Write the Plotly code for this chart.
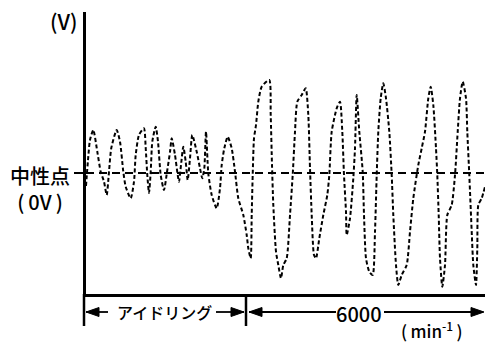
import plotly.graph_objects as go

# Waveform (time in arbitrary units, voltage relative to neutral point)
time = [2, 4, 6, 9.3, 13.3, 16.7, 20, 22.7, 25, 27.3, 32.7, 36, 39.3, 41.7, 46.7, 50, 51.7, 55, 60,
        61.7, 63.3, 65, 66.7, 68.3, 71.7, 74, 76.7, 80, 83, 86, 87.7, 91, 93.7, 95, 97, 99.3, 101.7,
        103.7, 106, 108.3, 112.7, 116, 118.3, 120.3, 122, 124.3, 127.7, 132.7, 136, 137.7, 140.3,
        143.7, 147.7, 151, 154.3, 159.3, 162.7, 164.3, 166.7, 167.7, 168.7, 170, 172, 174.3, 177.7,
        185.3, 186.7, 188, 189.3, 192, 194.3, 197, 199.3, 202.7, 206, 208.7, 211, 213.3, 217.7,
        221.7, 224.3, 226, 227.7, 230, 232, 235.3, 239.3, 243.3, 245.3, 247.7, 252.7, 256, 258.3,
        260, 262, 262.7, 266, 269.3, 271, 272.7, 275.3, 278.7, 280, 282, 285.3, 288.7, 291, 292.7,
        294.3, 296.7, 299.3, 302, 305.3, 307.7, 309.3, 312, 314.3, 317.7, 322.7, 326, 329.3, 334.3,
        337.7, 341, 344.3, 346.7, 349.3, 352, 353.3, 354.7, 356, 358.3, 361, 363.3, 367.7, 371,
        373.7, 376, 378.7, 382, 383.3, 385.3, 387.7, 389.3, 392, 393.3, 394.3, 397.7, 401]
voltage = [-13, 13, 33, 43, 21.3, 1.3, -8.7, -22, 1.3, 25, 43, 31.3, 1.3, -13.7, -25.3, -8.7, 18, 38, 44.7,
           25, -2, -20, 1.3, 31.3, 46.3, 31.3, -2, -17, 1, 21, 34.7, 18, -2, -8.7, 8, 26.3, 11.3,
           -7, 14.7, 38, 21.3, 4.7, -5.3, 4.7, 41.3, -0.3, -22, -35.3, -15.3, 8, 24.7,
           36.3, 24.7, 1.3, -25.3, -42, -62, -75.3, -85.3, -42, -2, 34.7, 48, 71.3, 86.3,
           93, 58, 8, -32, -78.7, -92, -105.3, -92, -85.3, -42, -2, 41.3, 71.3, 78,
           84.7, 58, 4.7, -42, -82, -85.3, -65.3, -42, -22, -2, 41.3, 64.7, 71.3, 41.3,
           -2, -38.7, -62, -45.3, -5.3, 24.7, 78, 41.3, 1.3, -42, -85.3, -98.7, -102, -58.7, -2,
           41.3, 74.7, 89.7, 74.7, 41.3, -2, -42, -92, -112, -102, -92, -58.7, -25.3, 8,
           24.7, 41.3, 74.7, 86.3, 68, 24.7, -2, -42, -85.3, -113.7, -92, -42, -32, -2,
           41.3, 74.7, 91.3, 74.7, 41.3, -2, -58.7, -92, -112, -75.3, -32, -25.3, -13.7]

neutral_level = 0
x_range = [2, 401]
y_range = [-121, 161]

# Layout geometry (pixels)
W, H = 485, 342
L, R, T, B = 86, 0, 12, 48
PW, PH = W - L - R, H - T - B


def px(x):
    return (x - L) / PW


def py(y):
    return (H - B - y) / PH


fig = go.Figure()
fig.add_trace(go.Scatter(
    x=time, y=voltage, mode="lines",
    line=dict(color="black", width=2, dash="4px,2.5px", shape="spline", smoothing=0.6),
    hoverinfo="skip", showlegend=False,
))
fig.add_trace(go.Scatter(
    x=[x_range[0], x_range[1]], y=[neutral_level, neutral_level], mode="lines",
    line=dict(color="black", width=2, dash="8px,5px"),
    hoverinfo="skip", showlegend=False,
))

shapes = []
# vertical ticks below the axis
for xx in (84, 246):
    shapes.append(dict(type="line", xref="paper", yref="paper",
                       x0=px(xx), x1=px(xx), y0=py(294), y1=py(326),
                       line=dict(color="black", width=2.5)))
ya = 312


def hline(x0, x1):
    shapes.append(dict(type="line", xref="paper", yref="paper",
                       x0=px(x0), x1=px(x1), y0=py(ya), y1=py(ya),
                       line=dict(color="black", width=1.8)))


def head(xtip, direction):
    ln = 13 * direction
    path = "M {} {} L {} {} L {} {} Z".format(
        px(xtip), py(ya), px(xtip + ln), py(ya - 4.5), px(xtip + ln), py(ya + 4.5))
    shapes.append(dict(type="path", xref="paper", yref="paper", path=path,
                       fillcolor="black", line=dict(color="black", width=1)))


hline(86, 108)
hline(216, 244)
head(86, 1)
head(244, -1)
hline(249, 336)
hline(384, 482)
head(249, 1)
head(484, -1)

font = "Noto Sans CJK JP, Noto Sans, sans-serif"
TS = "\u2009"


def label(text, x, y, size, weight=500):
    return dict(text=text, xref="paper", yref="paper", x=px(x), y=py(y),
                xanchor="center", yanchor="middle", showarrow=False,
                font=dict(family=font, size=size, color="black", weight=weight))


annotations = [
    label("(V)", 63, 21, 21),
    label("中性点<br>(" + TS + "0V" + TS + ")", 40, 188, 20),
    label("アイドリング", 164, 312, 16),
    label("6000", 359, 313, 20),
    label("(" + TS + "min<sup>-1</sup>" + TS + ")", 431, 330, 17),
]

fig.update_layout(
    width=W, height=H,
    margin=dict(l=L, r=R, t=T, b=B, pad=0),
    paper_bgcolor="white", plot_bgcolor="white",
    xaxis=dict(range=x_range, showgrid=False, zeroline=False, showticklabels=False,
               ticks="", showline=True, linecolor="black", linewidth=3, fixedrange=True),
    yaxis=dict(range=y_range, showgrid=False, zeroline=False,
               tickvals=[neutral_level], showticklabels=False, ticks="outside", ticklen=9,
               tickwidth=2, tickcolor="black",
               showline=True, linecolor="black", linewidth=3, fixedrange=True),
    shapes=shapes, annotations=annotations,
)

fig.write_html("out.html", config={"displayModeBar": False},
               post_script="document.body.style.margin='0';document.body.style.overflow='hidden';")
